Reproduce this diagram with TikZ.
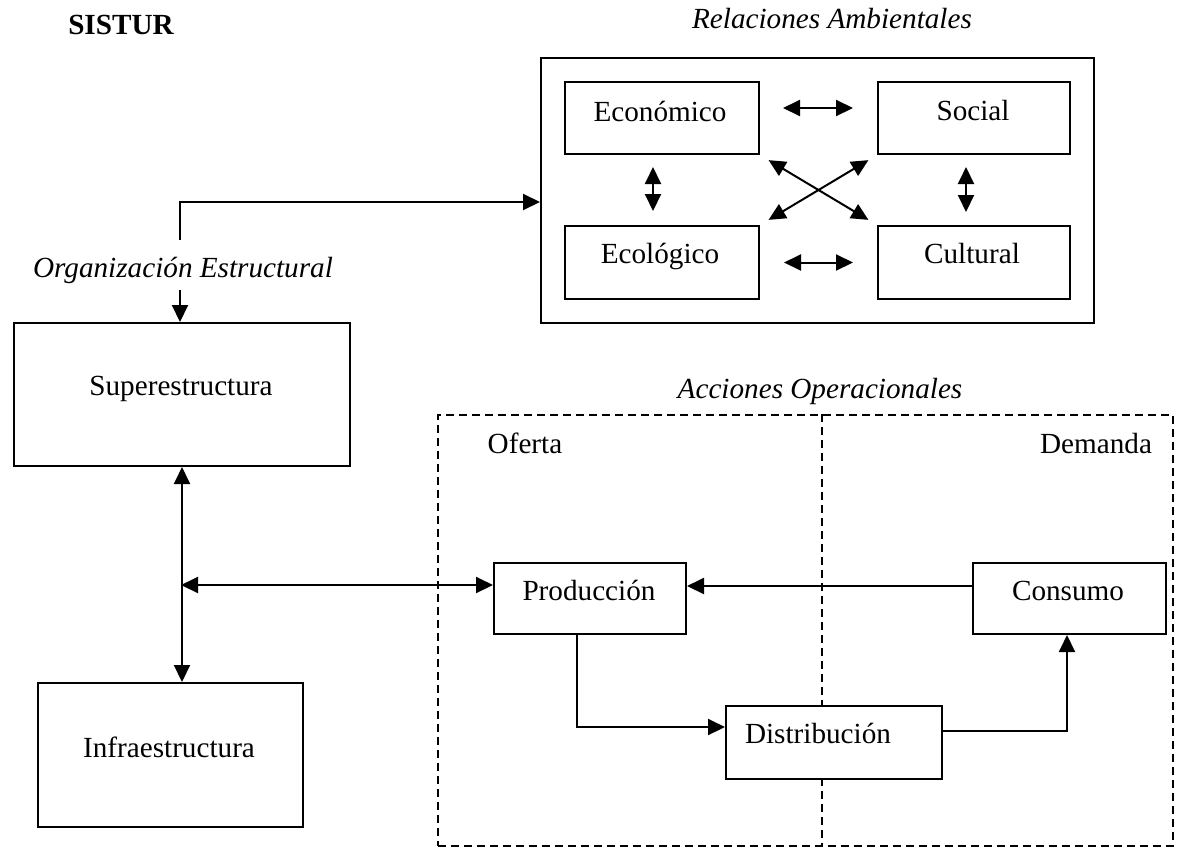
\documentclass[tikz,border=0pt]{standalone}
\usepackage{fontspec}
\setmainfont{Liberation Serif}
\usetikzlibrary{arrows.meta}
\begin{document}
\begin{tikzpicture}[x=0.5pt,y=-0.5pt,
  box/.style={draw, line width=1pt, fill=white, inner sep=0pt, anchor=north west},
  dashbox/.style={draw, dash pattern=on 4pt off 2.5pt, line width=0.75pt, inner sep=0pt, anchor=north west},
  dashline/.style={dash pattern=on 4pt off 2.5pt, line width=0.75pt},
  lbl/.style={anchor=base, inner sep=0pt, font=\fontsize{14.6}{17}\selectfont},
  ilbl/.style={anchor=base, inner sep=0pt, font=\fontsize{14.6}{17}\selectfont\itshape},
  blbl/.style={anchor=base, inner sep=0pt, font=\fontsize{14.6}{17}\selectfont\bfseries},
  arr/.style={line width=1pt, -{Triangle[length=8.5pt,width=8pt]}},
  darr/.style={line width=1pt, {Triangle[length=8.5pt,width=8pt]}-{Triangle[length=8.5pt,width=8pt]}}
]
\useasboundingbox (0,0) rectangle (1182,847);

% operational actions (dashed)
\node[dashbox, minimum width=367.5pt, minimum height=215.5pt] (ops) at (437,414) {};
\draw[dashline] ([xshift=8.25pt]ops.north) -- ([xshift=8.25pt]ops.south);

% environmental relations
\node[box, minimum width=276.5pt, minimum height=132.5pt] (env) at (540,57) {};
\node[box, minimum width=97pt, minimum height=36pt] (eco) at (564,81) {};
\node[box, minimum width=96pt, minimum height=36pt] (soc) at (877,81) {};
\node[box, minimum width=97pt, minimum height=36.5pt] (ecol) at (564,225) {};
\node[box, minimum width=96pt, minimum height=36.5pt] (cul) at (877,225) {};

% structure
\node[box, minimum width=168pt, minimum height=71.5pt] (sup) at (13,322) {};
\node[box, minimum width=132.5pt, minimum height=72pt] (inf) at (37,682) {};

% operations boxes
\node[box, minimum width=96pt, minimum height=35.5pt] (prod) at (493,562) {};
\node[box, minimum width=96.5pt, minimum height=35.5pt] (cons) at (972,562) {};
\node[box, minimum width=108pt, minimum height=36.5pt] (dist) at (725,705) {};

% texts
\node[blbl] (sistur) at (121,34) {SISTUR};
\node[ilbl] (trel) at (832,28) {Relaciones Ambientales};
\node[lbl] (teco) at (660,121) {Económico};
\node[lbl] (tsoc) at (973,120) {Social};
\node[lbl] (tecol) at (660,263) {Ecológico};
\node[lbl] (tcul) at (972,263) {Cultural};
\node[ilbl] (torg) at (183,277) {Organización Estructural};
\node[lbl] (tsup) at (181,395) {Superestructura};
\node[lbl] (tinf) at (169,757) {Infraestructura};
\node[ilbl] (tacc) at (820,398) {Acciones Operacionales};
\node[lbl] (tofe) at (525,453) {Oferta};
\node[lbl] (tdem) at (1096,453) {Demanda};
\node[lbl] (tpro) at (589,600) {Producción};
\node[lbl] (tcon) at (1068,600) {Consumo};
\node[lbl] (tdis) at (818,743) {Distribución};

% connectors: structure
\coordinate (orgUp) at (180,240);
\coordinate (orgDown) at (180,290);
\coordinate (hub) at (181,585);
\draw[arr] (orgUp) |- ([yshift=-5.75pt]env.west);
\draw[arr] (orgDown) -- (orgDown |- sup.north);
\draw[darr] (sup.south) -- (sup.south |- inf.north);
\draw[darr] (hub) -- (hub -| prod.west);

% connectors: operations
\draw[arr] ([yshift=6.25pt]cons.west) -- ([yshift=6.25pt]prod.east);
\draw[arr] ([xshift=-6.5pt]prod.south) |- ([yshift=7.75pt]dist.west);
\draw[arr] ([yshift=5.75pt]dist.east) -| ([xshift=-1.25pt]cons.south);

% connectors: environment
\draw[darr, shorten <=11.5pt, shorten >=12pt] ([yshift=5pt]eco.east) -- ([yshift=5pt]soc.west);
\draw[darr, shorten <=12pt, shorten >=12pt] (ecol.east) -- (cul.west);
\draw[darr, shorten <=6pt, shorten >=7pt] ([xshift=-4.5pt]eco.south) -- ([xshift=-4.5pt]ecol.north);
\draw[darr, shorten <=6pt, shorten >=6.5pt] ([xshift=-4pt]soc.south) -- ([xshift=-4pt]cul.north);
\draw[darr, shorten <=5pt, shorten >=5pt] (eco.south east) -- (cul.north west);
\draw[darr, shorten <=5pt, shorten >=5pt] (ecol.north east) -- (soc.south west);
\end{tikzpicture}
\end{document}
